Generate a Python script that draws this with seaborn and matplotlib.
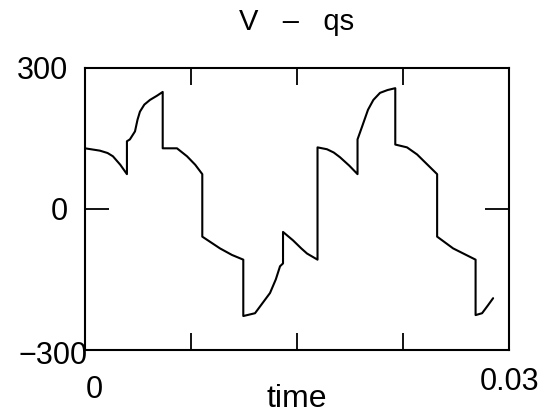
import numpy as np
import pandas as pd
import matplotlib
matplotlib.use("Agg")
import matplotlib.pyplot as plt
import matplotlib.transforms as mtransforms
import seaborn as sns

# values
time = [0.0, 0.00106, 0.00160, 0.00198, 0.00250, 0.00297, 0.00297, 0.00318,
        0.00354, 0.00372, 0.00389, 0.00420, 0.00460, 0.00510, 0.00550, 0.00550,
        0.00651, 0.00722, 0.00780, 0.00830, 0.00830, 0.00955, 0.01040, 0.01120,
        0.01120, 0.01203, 0.01309, 0.01350, 0.01380, 0.01401, 0.01401, 0.01472,
        0.01530, 0.01571, 0.01645, 0.01645, 0.01712, 0.01760, 0.01804, 0.01870,
        0.01928, 0.01928, 0.01960, 0.02002, 0.02040, 0.02087, 0.02140, 0.02195,
        0.02195, 0.02278, 0.02349, 0.02420, 0.02491, 0.02491, 0.02604, 0.02690,
        0.02763, 0.02763, 0.02809, 0.02851, 0.02887]
vqs = [129, 124, 119, 112, 94, 74, 144, 148,
       165, 190, 207, 222, 232, 241, 249, 129,
       129, 112, 94, 74, -59, -84, -98, -108,
       -228, -222, -179, -150, -122, -116, -49, -67,
       -84, -95, -108, 131, 127, 120, 110, 92,
       74, 148, 175, 211, 232, 247, 253, 257,
       137, 131, 116, 95, 74, -59, -84, -97,
       -108, -226, -222, -205, -190]

xticks = [0, 0.0075, 0.015, 0.0225, 0.03]
xticklabels = ['0', '', '', '', '0.03']
yticks = [-300, 0, 300]
yticklabels = ['\u2212300', '0', '300']

df = pd.DataFrame({'time': time, 'vqs': vqs})

sns.set_style('white')
plt.rcParams['font.family'] = ['Liberation Sans', 'DejaVu Sans']
plt.rcParams['text.color'] = 'black'
plt.rcParams['axes.labelcolor'] = 'black'

fig = plt.figure(figsize=(5.48, 4.17), dpi=100)
ax = fig.add_axes([0.155, 0.161, 0.774, 0.676])

sns.lineplot(data=df, x='time', y='vqs', sort=False, estimator=None,
             color='black', linewidth=1.5, ax=ax)

ax.set_xlim(0, 0.03)
ax.set_ylim(-300, 300)
ax.set_xticks(xticks)
ax.set_xticklabels(xticklabels)
ax.set_yticks(yticks)
ax.set_yticklabels(yticklabels)

for s in ax.spines.values():
    s.set_visible(True)
    s.set_color('black')
    s.set_linewidth(1.5)

ax.tick_params(axis='x', direction='in', top=True, bottom=True, length=12,
               width=1.3, pad=12, labelsize=22, colors='black')
ax.tick_params(axis='y', direction='in', left=True, right=True, length=17,
               width=1.3, pad=12, labelsize=22, colors='black')

# the -300 label runs into the corner in the original
shift = mtransforms.ScaledTranslation(14 / 72, -2 / 72, fig.dpi_scale_trans)
lab = ax.get_yticklabels()[0]
lab.set_transform(lab.get_transform() + shift)
# x "0" sits a little right of and below the corner
shift0 = mtransforms.ScaledTranslation(7 / 72, -6 / 72, fig.dpi_scale_trans)
lab0 = ax.get_xticklabels()[0]
lab0.set_transform(lab0.get_transform() + shift0)

ax.set_xlabel('time', fontsize=23, labelpad=-15, color='black')
ax.set_ylabel('')
ax.set_title('V   \u2013   qs', fontsize=21, pad=27, color='black')

fig.savefig('out.png', dpi=100, facecolor='white')
